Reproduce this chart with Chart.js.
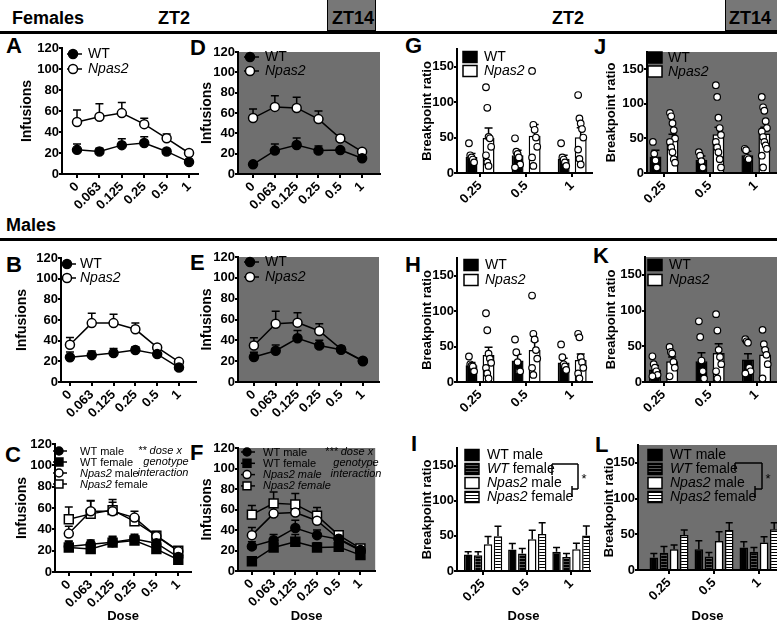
<!DOCTYPE html>
<html><head><meta charset="utf-8">
<script src="https://cdn.jsdelivr.net/npm/chart.js@4.4.1/dist/chart.umd.min.js"></script>
<style>
html,body{margin:0;padding:0;width:777px;height:628px;overflow:hidden;background:#fff;}
body{position:relative;font-family:"Liberation Sans",Arial,Helvetica,sans-serif;color:#000;}
canvas{position:absolute;}
.t{position:absolute;white-space:nowrap;}
</style></head><body>
<script>
// ================= DATA =================
const lineDoses = ['0', '0.063', '0.125', '0.25', '0.5', '1'];
const barDoses = ['0.25', '0.5', '1'];

// Infusions (mean, upper SEM) – females
const infFemZT2_WT = [23, 21.5, 27.5, 29.5, 21.5, 11.5];
const infFemZT2_WT_sem = [5.5, 3, 6, 6, 1, 0.5];
const infFemZT2_Np = [49.5, 54.5, 58, 47.5, 34, 20];
const infFemZT2_Np_sem = [11.5, 12.5, 10, 5.5, 4, 0.5];
const infFemZT14_WT = [9.5, 23, 28.5, 23, 23.5, 15.5];
const infFemZT14_WT_sem = [0.5, 6.5, 7, 4.5, 2, 1];
const infFemZT14_Np = [55, 66, 65, 54, 35, 22];
const infFemZT14_Np_sem = [9, 11, 10.5, 8, 3.5, 1.5];
// Infusions – males
const infMaleZT2_WT = [24, 26, 28, 31, 27, 14];
const infMaleZT2_WT_sem = [5, 4, 4.5, 3, 4, 0.5];
const infMaleZT2_Np = [36, 57, 57, 51, 33.5, 19.5];
const infMaleZT2_Np_sem = [7, 9.5, 8.5, 6, 2, 0.5];
const infMaleZT14_WT = [24, 30, 42, 35, 31, 20];
const infMaleZT14_WT_sem = [4.5, 5.5, 7.5, 5, 3, 0.5];
const infMaleZT14_Np = [35, 56, 57, 49, 31.5, 20.5];
const infMaleZT14_Np_sem = [7.5, 12, 9.5, 7, 2.5, 0.5];

// Breakpoint ratio (mean, SEM)
const bpFemZT2_WT = [22.5, 25, 20];
const bpFemZT2_WT_sem = [5, 7, 5];
const bpFemZT2_Np = [49.5, 52.5, 50.5];
const bpFemZT2_Np_sem = [14, 16, 13.5];
const bpMaleZT2_WT = [23.5, 30.5, 27.5];
const bpMaleZT2_WT_sem = [4, 8.5, 6];
const bpMaleZT2_Np = [38, 45, 31];
const bpMaleZT2_Np_sem = [11, 13, 8.5];
const bpFemZT14_WT = [24, 19, 25.5];
const bpFemZT14_WT_sem = [9, 5.5, 6];
const bpFemZT14_Np = [49, 56, 57];
const bpFemZT14_Np_sem = [7, 10, 9];
const bpMaleZT14_WT = [17.5, 29, 31.5];
const bpMaleZT14_WT_sem = [5.5, 12, 8];
const bpMaleZT14_Np = [29, 40.5, 38.5];
const bpMaleZT14_Np_sem = [6, 13, 8];

// individual animals (per dose)
const dotsFemZT2_WT = [[42, 25, 22, 19, 15], [49, 30, 27, 22, 12, 8], [42, 22, 19, 15, 10]];
const dotsFemZT2_Np = [[121, 92, 51, 49, 37, 25, 15, 10], [144, 68, 61, 50, 37, 22, 10], [110, 77, 70, 62, 50, 33, 20, 12]];
const dotsFemZT14_WT = [[45, 28, 18, 8], [30, 25, 17, 8], [35, 33, 22, 20]];
const dotsFemZT14_Np = [[87, 82, 72, 62, 50, 45, 37, 30, 20, 15], [127, 110, 80, 65, 55, 45, 37, 30, 20, 8], [110, 95, 90, 75, 65, 60, 52, 45, 40, 35, 25, 8]];
const dotsMaleZT2_WT = [[36, 25, 23, 22, 15], [60, 42, 28, 15, 15], [53, 35, 25, 22, 17]];
const dotsMaleZT2_Np = [[97, 73, 40, 33, 27, 20, 12, 5], [122, 68, 60, 45, 33, 20, 10], [68, 63, 35, 28, 20, 12, 5]];
const dotsMaleZT14_WT = [[36, 25, 20, 15, 10, 8], [85, 63, 30, 15, 5], [60, 57, 55, 20, 15, 12]];
const dotsMaleZT14_Np = [[49, 42, 40, 28, 20, 8], [95, 72, 45, 35, 25, 15, 5], [73, 53, 45, 38, 25, 5]];

// ================= STYLE / HELPERS =================
const FONT = '"Liberation Sans", Arial, Helvetica, sans-serif';
const GRAY = '#6f6f6f';
Chart.defaults.font.family = FONT;
Chart.defaults.color = '#000';

function text(str, x, baseline, size, style) {
  const d = document.createElement('div');
  d.className = 't';
  d.style.left = x + 'px';
  d.style.top = (baseline - 0.9215 * size) + 'px';
  d.style.fontSize = size + 'px';
  d.style.lineHeight = (size * 1.15) + 'px';
  d.style.cssText += style || '';
  d.innerHTML = str;
  document.body.appendChild(d);
  return d;
}
function box(x, y, w, h, style) {
  const d = document.createElement('div');
  d.style.cssText = 'position:absolute;left:' + x + 'px;top:' + y + 'px;width:' + w + 'px;height:' + h + 'px;' + style;
  document.body.appendChild(d);
}
function stripes(base, line) {
  const c = document.createElement('canvas'); c.width = 4; c.height = 3;
  const x = c.getContext('2d');
  x.fillStyle = base; x.fillRect(0, 0, 4, 3);
  x.fillStyle = line; x.fillRect(0, 1, 4, 1);
  return x.createPattern(c, 'repeat');
}
const patWTf = stripes('#000', '#555');
const patNpf = stripes('#fff', '#000');

function runs(s) { return s.split('_').map((t, i) => ({t, it: i % 2 === 1})).filter(r => r.t.length); }

const bgPlugin = {
  id: 'bg',
  beforeDraw(chart, a, o) {
    if (!o.color) return;
    const ca = chart.chartArea, ctx = chart.ctx;
    ctx.save(); ctx.fillStyle = o.color;
    ctx.fillRect(ca.left, ca.top, ca.right - ca.left, ca.bottom - ca.top);
    ctx.restore();
  }
};
const errPlugin = {
  id: 'err',
  beforeDatasetsDraw(chart, a, o) {
    const ctx = chart.ctx;
    ctx.save(); ctx.strokeStyle = '#000'; ctx.lineWidth = 1.5;
    chart.data.datasets.forEach((ds, di) => {
      if (!ds.sem) return;
      const meta = chart.getDatasetMeta(di);
      const ys = chart.scales[meta.yAxisID];
      meta.data.forEach((el, i) => {
        const v = ds.data[i].y;
        const yt = ys.getPixelForValue(v + ds.sem[i]);
        ctx.beginPath();
        ctx.moveTo(el.x, el.y); ctx.lineTo(el.x, yt);
        ctx.moveTo(el.x - o.cap, yt); ctx.lineTo(el.x + o.cap, yt);
        ctx.stroke();
      });
    });
    ctx.restore();
  }
};
const legendPlugin = {
  id: 'lg',
  afterDraw(chart, a, o) {
    if (!o.items) return;
    const ctx = chart.ctx, ca = chart.chartArea;
    ctx.save();
    ctx.textBaseline = 'middle';
    o.items.forEach((it, i) => {
      const y = ca.top + o.y0 + i * o.gap;
      const x = ca.left + o.x0;
      ctx.lineWidth = 1.5; ctx.strokeStyle = '#000';
      if (o.kind === 'line') {
        ctx.beginPath(); ctx.moveTo(x + o.l0, y); ctx.lineTo(x + o.l1, y); ctx.stroke();
        ctx.fillStyle = it.fill;
        Chart.helpers.drawPoint(ctx, {pointStyle: it.shape, radius: it.shape === 'rect' ? o.r * 1.4 : o.r, borderWidth: 1.5, rotation: 0}, x, y);
      } else {
        ctx.fillStyle = it.fill;
        ctx.fillRect(x, y - o.bh / 2, o.bw, o.bh);
        ctx.strokeRect(x, y - o.bh / 2, o.bw, o.bh);
      }
      let tx = ca.left + o.tx;
      ctx.fillStyle = '#000';
      runs(it.text).forEach(r => {
        ctx.font = (r.it ? 'italic ' : '') + o.size + 'px ' + FONT;
        ctx.fillText(r.t, tx, y + 0.5);
        tx += ctx.measureText(r.t).width;
      });
    });
    ctx.restore();
  }
};
const annPlugin = {
  id: 'ann',
  afterDraw(chart, a, o) {
    const ctx = chart.ctx, ca = chart.chartArea;
    const X = v => ca.left + (v - o.l), Y = v => ca.top + (v - o.t);
    ctx.save();
    ctx.strokeStyle = '#000'; ctx.lineWidth = 1.5; ctx.fillStyle = '#000';
    (o.lines || []).forEach(L => { ctx.beginPath(); ctx.moveTo(X(L[0]), Y(L[1])); ctx.lineTo(X(L[2]), Y(L[3])); ctx.stroke(); });
    ctx.textBaseline = 'middle';
    (o.texts || []).forEach(T => {
      ctx.font = (T.italic ? 'italic ' : '') + T.size + 'px ' + FONT;
      ctx.textAlign = T.align || 'center';
      ctx.fillText(T.t, X(T.x), Y(T.y));
    });
    ctx.restore();
  }
};

function panel(p) {
  const a = p.area;
  const lh = p.titleSize * 1.2;
  const yW = Math.round(a.l - p.titleX + lh / 2);
  const padT = 14, padR = 6;
  const xH = p.dose ? Math.round(616 + 7.8 - a.b) : 44;
  const c = document.createElement('canvas');
  c.width = (a.r - a.l) + yW + padR;
  c.height = (a.b - a.t) + padT + xH;
  c.style.left = (a.l - yW) + 'px';
  c.style.top = (a.t - padT) + 'px';
  document.body.appendChild(c);
  const labels = p.labels;
  new Chart(c, {
    type: p.type,
    data: {datasets: p.datasets},
    plugins: [bgPlugin, errPlugin, legendPlugin, annPlugin],
    options: {
      responsive: false, animation: false, devicePixelRatio: 1,
      events: [],
      layout: {padding: {top: padT, right: padR, left: 0, bottom: 0}},
      plugins: {
        legend: {display: false}, tooltip: {enabled: false},
        bg: {color: p.gray ? GRAY : null},
        err: {cap: p.cap || 4},
        lg: p.legend || {},
        ann: Object.assign({l: a.l, t: a.t}, p.ann || {})
      },
      scales: {
        x: {
          type: 'linear', min: p.xmin, max: p.xmax, offset: false,
          afterFit(s) { s.height = xH; s.paddingLeft = 0; s.paddingRight = 0; },
          ticks: {stepSize: 1, autoSkip: false, includeBounds: false, maxRotation: 45, minRotation: 45,
            font: {size: 13, weight: 'bold'}, color: '#000', padding: 1,
            callback: v => labels[v]},
          grid: {drawOnChartArea: false, drawTicks: true, tickLength: 4, color: '#000', lineWidth: 2, offset: false},
          border: {display: true, color: '#000', width: 2},
          title: {display: !!p.dose, text: 'Dose', font: {size: 13, weight: 'bold'}, color: '#000', padding: 0}
        },
        y: {
          type: 'linear', min: 0, max: p.ymax,
          afterFit(s) { s.width = yW; s.paddingTop = 0; s.paddingBottom = 0; },
          ticks: {stepSize: p.ystep, font: {size: 13, weight: 'bold'}, color: '#000', padding: 0},
          grid: {drawOnChartArea: false, drawTicks: true, tickLength: 3, color: '#000', lineWidth: 2},
          border: {display: true, color: '#000', width: 2},
          title: {display: true, text: p.title, font: {size: p.titleSize, weight: 'bold'}, color: '#000', padding: 0}
        }
      }
    }
  });
}

function lineDs(vals, sem, shape, fill) {
  return {type: 'line', data: vals.map((v, i) => ({x: i, y: v})), sem,
    borderColor: '#000', borderWidth: 1.5, tension: 0, fill: false,
    pointStyle: shape, pointRadius: shape === 'rect' ? 6.3 : 4.5,
    pointBackgroundColor: fill, pointBorderColor: '#000', pointBorderWidth: 1.5};
}
function barDs(vals, sem, fill, cp, bp) {
  return {type: 'bar', order: 1, data: vals.map((v, i) => ({x: i, y: v})), sem,
    backgroundColor: fill, borderColor: '#000', borderWidth: 1.5, borderSkipped: 'bottom',
    categoryPercentage: cp, barPercentage: bp};
}
function dotsDs(groups, off) {
  const d = [];
  groups.forEach((g, i) => g.forEach((v, k) => d.push({x: i + off + ((k % 5) - 2) * 0.028, y: v})));
  return {type: 'scatter', order: 0, data: d, showLine: false, pointRadius: 3.3,
    pointBackgroundColor: '#fff', pointBorderColor: '#000', pointBorderWidth: 1.2};
}

// ================= HEADERS =================
text('Females', 12, 25, 18, 'font-weight:bold;');
text('ZT2', 158, 25, 18, 'font-weight:bold;');
box(327, -1, 47, 30, 'background:#777;border:1px solid #000;');
text('ZT14', 332, 25, 18, 'font-weight:bold;');
text('ZT2', 552, 25, 18, 'font-weight:bold;');
box(725, -1, 60, 30, 'background:#777;border:1px solid #000;');
text('ZT14', 729, 25, 18, 'font-weight:bold;');
box(0, 31, 777, 3, 'background:#000;');
text('Males', 6, 232, 18, 'font-weight:bold;');
box(0, 238, 777, 3, 'background:#000;');

const letters = [['A', 6, 53], ['D', 190, 55], ['G', 405, 53], ['J', 594, 54],
  ['B', 6, 272], ['E', 190, 270], ['H', 405, 272], ['K', 593, 263],
  ['C', 5, 462], ['F', 190, 460], ['I', 411, 451], ['L', 595, 452]];
letters.forEach(l => text(l[0], l[1], l[2], 22, 'font-weight:bold;'));

// ================= PANELS =================
const lgLine2 = (x0, y0, gap, tx) => ({kind: 'line', x0, y0, gap, l0: -6, l1: 9, r: 4.5, tx, size: 14,
  items: [{shape: 'circle', fill: '#000', text: 'WT'}, {shape: 'circle', fill: '#fff', text: '_Npas2_'}]});
const lgBar2 = (x0, y0, gap, tx) => ({kind: 'box', x0, y0, gap, bw: 14, bh: 11, tx, size: 14,
  items: [{fill: '#000', text: 'WT'}, {fill: '#fff', text: '_Npas2_'}]});
const lgBar4 = (x0, y0, tx) => ({kind: 'box', x0, y0, gap: 14, bw: 14, bh: 11, tx, size: 14,
  items: [{fill: '#000', text: 'WT male'}, {fill: patWTf, text: '_WT_ female'}, {fill: '#fff', text: '_Npas2_ male'}, {fill: patNpf, text: '_Npas2_ female'}]});

const INF = {type: 'line', labels: lineDoses, ymax: 120, ystep: 20, title: 'Infusions', titleSize: 14};
const BP = {type: 'bar', labels: barDoses, ymax: 175, ystep: 25, title: 'Breakpoint ratio', titleSize: 13, cap: 4};
const CP2 = 0.74, BP2 = 0.7, CP4 = 0.9, BP4 = 0.85;
const off2 = CP2 / 4;

// A
panel(Object.assign({}, INF, {area: {l: 62, t: 48, r: 198, b: 174}, xmin: -0.67, xmax: 5.4, titleX: 27,
  datasets: [lineDs(infFemZT2_WT, infFemZT2_WT_sem, 'circle', '#000'), lineDs(infFemZT2_Np, infFemZT2_Np_sem, 'circle', '#fff')],
  legend: lgLine2(11, 6, 15, 26)}));
// D
panel(Object.assign({}, INF, {area: {l: 238, t: 52, r: 380, b: 174}, xmin: -0.69, xmax: 5.82, titleX: 207, gray: true,
  datasets: [lineDs(infFemZT14_WT, infFemZT14_WT_sem, 'circle', '#000'), lineDs(infFemZT14_Np, infFemZT14_Np_sem, 'circle', '#fff')],
  legend: lgLine2(12, 5, 14, 27)}));
// G
panel(Object.assign({}, BP, {area: {l: 457, t: 49, r: 592, b: 173}, xmin: -0.5, xmax: 2.43, titleX: 428,
  datasets: [dotsDs(dotsFemZT2_WT, -off2), dotsDs(dotsFemZT2_Np, off2),
    barDs(bpFemZT2_WT, bpFemZT2_WT_sem, '#000', CP2, BP2), barDs(bpFemZT2_Np, bpFemZT2_Np_sem, '#fff', CP2, BP2)],
  legend: lgBar2(6, 8, 14, 27)}));
// J
panel(Object.assign({}, BP, {area: {l: 647, t: 52, r: 777, b: 173}, xmin: -0.37, xmax: 2.46, titleX: 612, gray: true,
  datasets: [dotsDs(dotsFemZT14_WT, -off2), dotsDs(dotsFemZT14_Np, off2),
    barDs(bpFemZT14_WT, bpFemZT14_WT_sem, '#000', CP2, BP2), barDs(bpFemZT14_Np, bpFemZT14_Np_sem, '#fff', CP2, BP2)],
  legend: lgBar2(1, 5.5, 14, 21)}));
// B
panel(Object.assign({}, INF, {area: {l: 61, t: 258, r: 196, b: 382}, xmin: -0.41, xmax: 5.78, titleX: 22,
  datasets: [lineDs(infMaleZT2_WT, infMaleZT2_WT_sem, 'circle', '#000'), lineDs(infMaleZT2_Np, infMaleZT2_Np_sem, 'circle', '#fff')],
  legend: lgLine2(6, 6, 14, 19)}));
// E
panel(Object.assign({}, INF, {area: {l: 238, t: 257, r: 379, b: 382}, xmin: -0.73, xmax: 5.74, titleX: 207, gray: true,
  datasets: [lineDs(infMaleZT14_WT, infMaleZT14_WT_sem, 'circle', '#000'), lineDs(infMaleZT14_Np, infMaleZT14_Np_sem, 'circle', '#fff')],
  legend: lgLine2(12, 5, 15, 27)}));
// H
panel(Object.assign({}, BP, {area: {l: 457, t: 258, r: 592, b: 382}, xmin: -0.5, xmax: 2.43, titleX: 428,
  datasets: [dotsDs(dotsMaleZT2_WT, -off2), dotsDs(dotsMaleZT2_Np, off2),
    barDs(bpMaleZT2_WT, bpMaleZT2_WT_sem, '#000', CP2, BP2), barDs(bpMaleZT2_Np, bpMaleZT2_Np_sem, '#fff', CP2, BP2)],
  legend: lgBar2(7, 7, 15, 28)}));
// K
panel(Object.assign({}, BP, {area: {l: 645, t: 257, r: 777, b: 382}, xmin: -0.4, xmax: 2.44, titleX: 612, gray: true,
  datasets: [dotsDs(dotsMaleZT14_WT, -off2), dotsDs(dotsMaleZT14_Np, off2),
    barDs(bpMaleZT14_WT, bpMaleZT14_WT_sem, '#000', CP2, BP2), barDs(bpMaleZT14_Np, bpMaleZT14_Np_sem, '#fff', CP2, BP2)],
  legend: lgBar2(3, 8, 15, 24)}));
// C
panel(Object.assign({}, INF, {area: {l: 55, t: 444, r: 193, b: 572}, xmin: -0.63, xmax: 5.59, titleX: 22, dose: true,
  datasets: [lineDs(infMaleZT2_WT, infMaleZT2_WT_sem, 'circle', '#000'), lineDs(infFemZT2_WT, infFemZT2_WT_sem, 'rect', '#000'),
    lineDs(infMaleZT2_Np, infMaleZT2_Np_sem, 'circle', '#fff'), lineDs(infFemZT2_Np, infFemZT2_Np_sem, 'rect', '#fff')],
  legend: {kind: 'line', x0: 4, y0: 7, gap: 11, l0: -6, l1: 8, r: 4, tx: 25, size: 11,
    items: [{shape: 'circle', fill: '#000', text: 'WT male'}, {shape: 'rect', fill: '#000', text: 'WT female'},
      {shape: 'circle', fill: '#fff', text: '_Npas2_ male'}, {shape: 'rect', fill: '#fff', text: '_Npas2_ female'}]},
  ann: {texts: [{t: '** dose x', x: 160, y: 451, size: 11, italic: true}, {t: 'genotype', x: 166, y: 462, size: 11, italic: true},
    {t: 'interaction', x: 163, y: 473, size: 11, italic: true}]}}));
// F
panel(Object.assign({}, INF, {area: {l: 238, t: 448, r: 377, b: 571}, xmin: -0.64, xmax: 5.68, titleX: 207, dose: true, gray: true,
  datasets: [lineDs(infMaleZT14_WT, infMaleZT14_WT_sem, 'circle', '#000'), lineDs(infFemZT14_WT, infFemZT14_WT_sem, 'rect', '#000'),
    lineDs(infMaleZT14_Np, infMaleZT14_Np_sem, 'circle', '#fff'), lineDs(infFemZT14_Np, infFemZT14_Np_sem, 'rect', '#fff')],
  legend: {kind: 'line', x0: 9, y0: 4, gap: 11.3, l0: -6, l1: 8, r: 4, tx: 25, size: 11,
    items: [{shape: 'circle', fill: '#000', text: 'WT male'}, {shape: 'rect', fill: '#000', text: 'WT female'},
      {shape: 'circle', fill: '#fff', text: '_Npas2 male_'}, {shape: 'rect', fill: '#fff', text: '_Npas2 female_'}]},
  ann: {texts: [{t: '*** dose x', x: 349, y: 452, size: 11, italic: true}, {t: 'genotype', x: 356, y: 463, size: 11, italic: true},
    {t: 'interaction', x: 356, y: 474, size: 11, italic: true}]}}));
// I
panel(Object.assign({}, BP, {area: {l: 457, t: 448, r: 590, b: 571}, xmin: -0.59, xmax: 2.42, titleX: 428, dose: true, cap: 3.5,
  datasets: [barDs(bpMaleZT2_WT, bpMaleZT2_WT_sem, '#000', CP4, BP4), barDs(bpFemZT2_WT, bpFemZT2_WT_sem, patWTf, CP4, BP4),
    barDs(bpMaleZT2_Np, bpMaleZT2_Np_sem, '#fff', CP4, BP4), barDs(bpFemZT2_Np, bpFemZT2_Np_sem, patNpf, CP4, BP4)],
  legend: lgBar4(8, 7, 30),
  ann: {lines: [[552, 464, 552, 475], [552, 464, 578, 464], [578, 464, 578, 489], [572, 489, 578, 489], [572, 486, 572, 497]],
    texts: [{t: '*', x: 584, y: 479, size: 13}]}}));
// L
panel(Object.assign({}, BP, {area: {l: 638, t: 445, r: 777, b: 570}, xmin: -0.69, xmax: 2.4, titleX: 610, dose: true, gray: true, cap: 3.5,
  datasets: [barDs(bpMaleZT14_WT, bpMaleZT14_WT_sem, '#000', CP4, BP4), barDs(bpFemZT14_WT, bpFemZT14_WT_sem, patWTf, CP4, BP4),
    barDs(bpMaleZT14_Np, bpMaleZT14_Np_sem, '#fff', CP4, BP4), barDs(bpFemZT14_Np, bpFemZT14_Np_sem, patNpf, CP4, BP4)],
  legend: lgBar4(10, 10, 32),
  ann: {lines: [[735, 463, 735, 471], [735, 463, 762, 463], [762, 463, 762, 489], [755, 489, 762, 489], [755, 486, 755, 498]],
    texts: [{t: '*', x: 768, y: 479, size: 13}]}}));
</script>
</body></html>
